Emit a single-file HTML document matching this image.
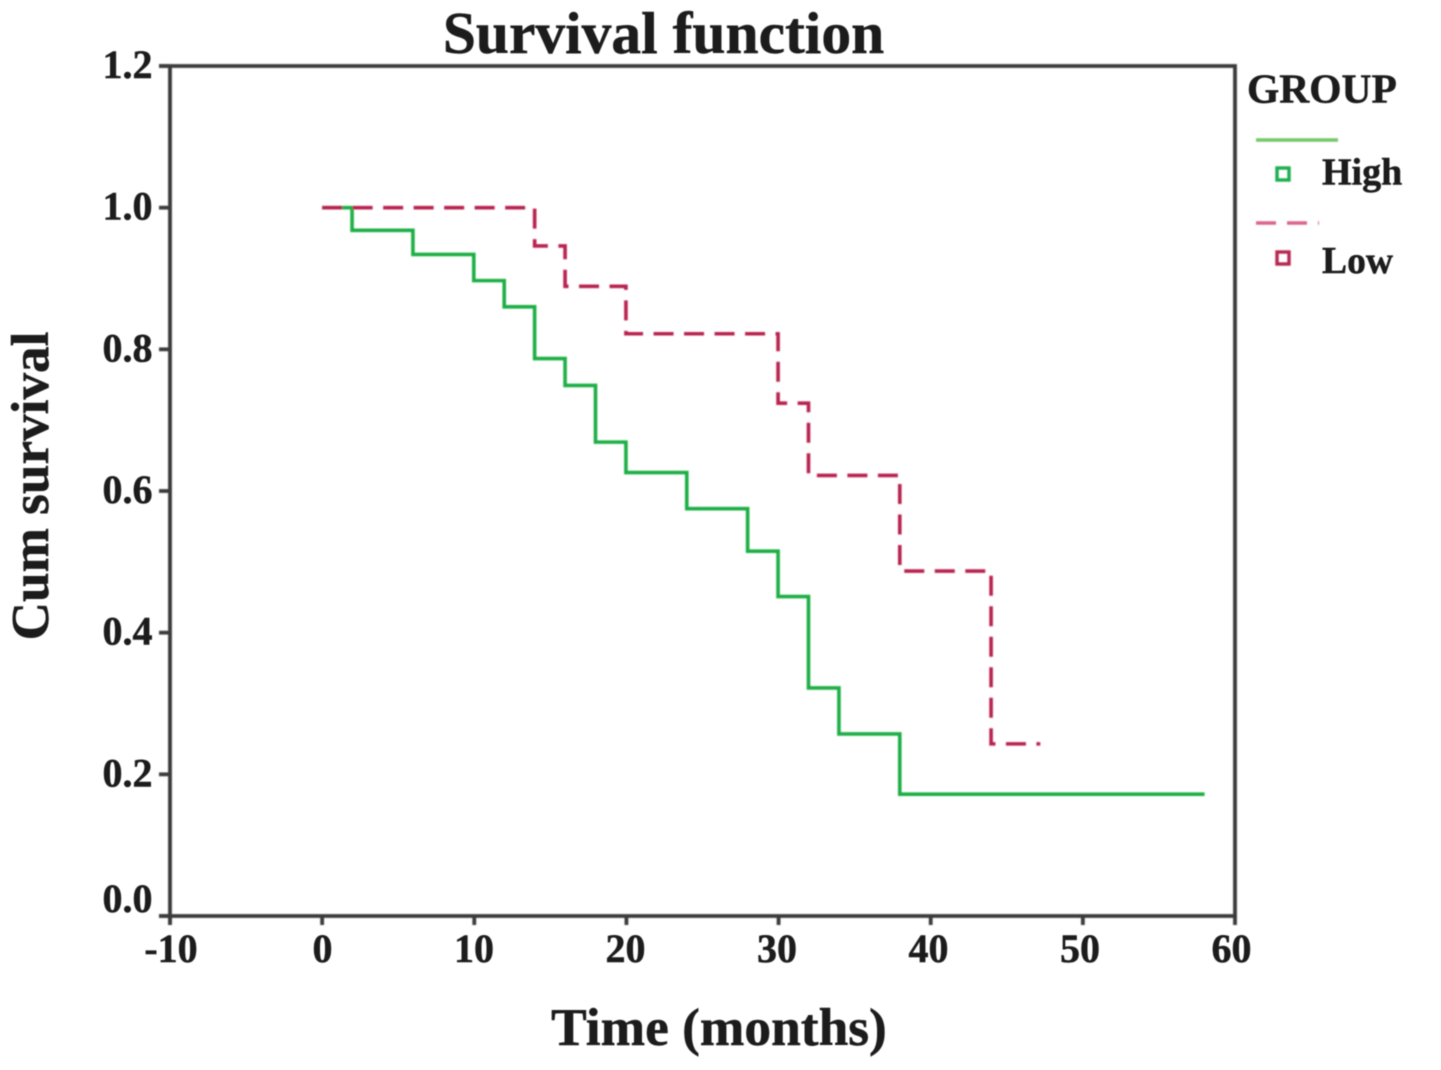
<!DOCTYPE html>
<html>
<head>
<meta charset="utf-8">
<title>Survival function</title>
<style>
html,body{margin:0;padding:0;background:#fff;}
svg{display:block;}
text{font-family:"Liberation Serif",serif;font-weight:bold;fill:#1c1c1c;stroke:#1c1c1c;stroke-width:0.5px;}
</style>
</head>
<body>
<svg id="chart" width="1441" height="1070" viewBox="0 0 1441 1070" xmlns="http://www.w3.org/2000/svg">
  <defs>
    <filter id="soft" x="-5%" y="-5%" width="110%" height="110%"><feGaussianBlur stdDeviation="0.7"/></filter>
    <filter id="softText" x="-5%" y="-5%" width="110%" height="110%"><feGaussianBlur stdDeviation="0.4"/></filter>
  </defs>
  <rect width="1441" height="1070" fill="#fff"/>
  <g id="frame" filter="url(#soft)"></g>
  <g id="series" filter="url(#soft)"></g>
  <g id="labels" filter="url(#softText)"></g>
  <g filter="url(#softText)">
    <text x="663.5" y="53" font-size="59.5" text-anchor="middle">Survival function</text>
    <text x="719" y="1045" font-size="53.4" text-anchor="middle">Time (months)</text>
    <text transform="translate(48,486) rotate(-90)" font-size="53.2" text-anchor="middle">Cum survival</text>
  </g>
  <g>
    <g filter="url(#softText)">
      <text x="1247" y="102.5" font-size="41.5">GROUP</text>
      <text x="1322" y="184.5" font-size="38">High</text>
      <text x="1322" y="273" font-size="37.6">Low</text>
    </g>
    <g filter="url(#soft)">
      <line x1="1256" x2="1338" y1="140" y2="140" stroke="#74c666" stroke-width="3.6"/>
      <rect x="1277" y="168" width="12" height="12" fill="none" stroke="#1fae4e" stroke-width="3.4"/>
      <line x1="1256" x2="1319" y1="223" y2="223" stroke="#d9648c" stroke-width="3.6" stroke-dasharray="20 11"/>
      <rect x="1277" y="252" width="12" height="12" fill="none" stroke="#b3274f" stroke-width="3.4"/>
    </g>
  </g>
</svg>
<script>
const xTicks = [-10, 0, 10, 20, 30, 40, 50, 60];
const yTicks = [0.0, 0.2, 0.4, 0.6, 0.8, 1.0, 1.2];
const highTimes = [0, 2, 6, 10, 12, 14, 16, 18, 20, 24, 28, 30, 32, 34, 38];
const highSurvival = [1.0, 0.968, 0.934, 0.897, 0.860, 0.787, 0.749, 0.669, 0.626, 0.575, 0.515, 0.451, 0.322, 0.257, 0.172];
const highEndTime = 58;
const lowTimes = [0, 14, 16, 20, 30, 32, 38, 44];
const lowSurvival = [1.0, 0.946, 0.889, 0.822, 0.724, 0.622, 0.487, 0.243];
const lowEndTime = 47.2;

const NS = 'http://www.w3.org/2000/svg';
const plotLeft = 170, plotRight = 1235, plotTop = 66, plotBottom = 916;
function xScale(v) { return plotLeft + (v + 10) * (plotRight - plotLeft) / 70; }
function yScale(v) { return plotBottom - v * (plotBottom - plotTop) / 1.2; }
function xLabelScale(v) { return 171 + (v + 10) * 15.15; }
function make(tag, attrs) {
  const el = document.createElementNS(NS, tag);
  for (const k in attrs) el.setAttribute(k, attrs[k]);
  return el;
}
function stepPath(times, values, endTime) {
  let d = 'M' + xScale(times[0]) + ' ' + yScale(values[0]);
  for (let i = 1; i < times.length; i++) {
    d += 'H' + (xScale(times[i]) - 0.5) + 'V' + yScale(values[i]);
  }
  return d + 'H' + xScale(endTime);
}

const frame = document.getElementById('frame');
const labels = document.getElementById('labels');
const series = document.getElementById('series');
const axisStyle = { stroke: '#3a3a3a', 'stroke-width': 3.8, fill: 'none' };

const box = make('path', Object.assign({ d: 'M' + (plotLeft - 11) + ' ' + plotTop + 'H' + plotRight + 'V' + plotBottom + 'H' + (plotLeft - 11) + 'M' + plotLeft + ' ' + plotTop + 'V' + (plotBottom + 9) }, axisStyle));


frame.appendChild(box);

xTicks.forEach(function (t) {
  const tick = make('line', Object.assign({ x1: xScale(t), x2: xScale(t), y1: plotBottom, y2: plotBottom + 9 }, axisStyle));
  
  
  frame.appendChild(tick);
  const label = make('text', { x: xLabelScale(t), y: plotBottom + 46, 'font-size': 40, 'text-anchor': 'middle' });
  label.textContent = String(t);
  
  
  labels.appendChild(label);
});

yTicks.forEach(function (t) {
  const tick = make('line', Object.assign({ x1: plotLeft - 11, x2: plotLeft, y1: yScale(t), y2: yScale(t) }, axisStyle));
  
  
  frame.appendChild(tick);
  const nudge = t === 0 ? -4 : 12;
  const label = make('text', { x: plotLeft - 17.5, y: yScale(t) + nudge, 'font-size': 40, 'text-anchor': 'end' });
  label.textContent = t.toFixed(1);
  
  
  labels.appendChild(label);
});

const highCurve = make('path', { d: stepPath(highTimes, highSurvival, highEndTime), fill: 'none', stroke: '#1fae45', 'stroke-width': 3.6 });


series.appendChild(highCurve);

const lowCurve = make('path', { d: stepPath(lowTimes, lowSurvival, lowEndTime), fill: 'none', stroke: '#b8204f', 'stroke-width': 3.6, 'stroke-dasharray': '20 10.5' });


series.appendChild(lowCurve);
</script>
</body>
</html>
